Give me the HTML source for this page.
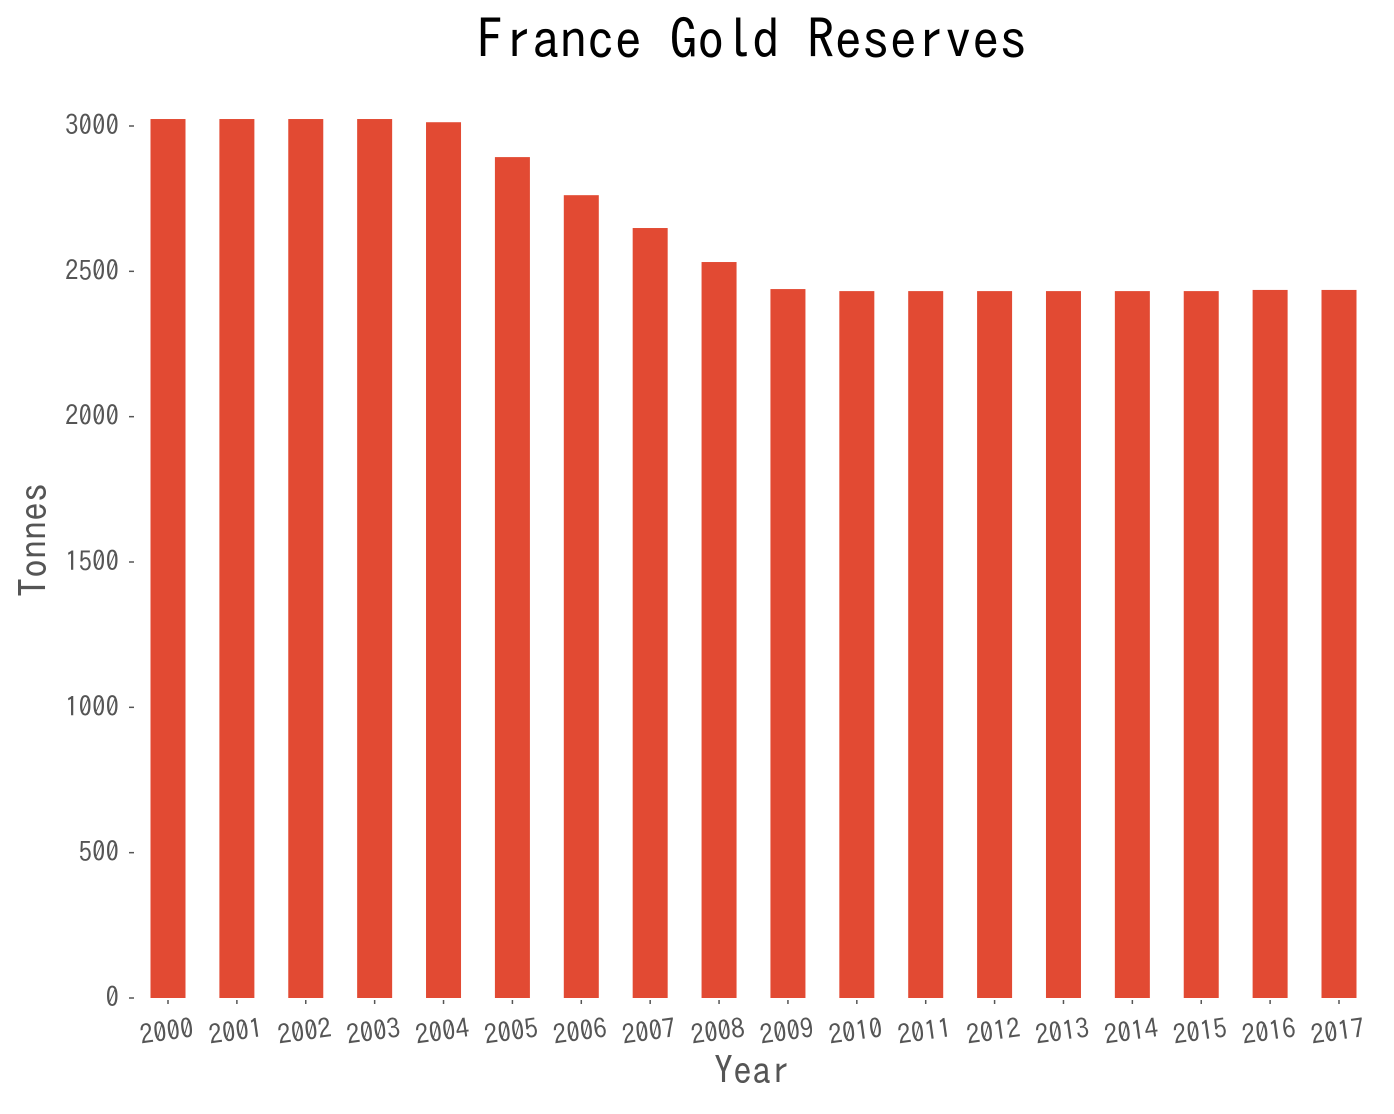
<!DOCTYPE html>
<html><head><meta charset="utf-8"><style>
body{margin:0;background:#fff;}
svg text{font-family:"IPAGothic","Noto Sans CJK JP",sans-serif;}
</style></head><body>
<svg id="chart" width="1394" height="1109" xmlns="http://www.w3.org/2000/svg">
<text x="752" y="59" font-size="55" text-anchor="middle" fill="#000">France Gold Reserves</text>
<text x="752" y="1084" font-size="38" text-anchor="middle" fill="#555">Year</text>
<text transform="translate(47,540) rotate(-90)" font-size="38" text-anchor="middle" fill="#555">Tonnes</text>
<g id="bars"></g>
<g id="yticks"></g>
<g id="xticks"></g>
</svg>
<script>
const years=["2000","2001","2002","2003","2004","2005","2006","2007","2008","2009","2010","2011","2012","2013","2014","2015","2016","2017"];
const tonnes=[3024,3024,3024,3024,3013,2893,2762,2649,2532,2439,2432,2432,2432,2432,2432,2432,2436,2436];
const yTicks=[0,500,1000,1500,2000,2500,3000];
const NS="http://www.w3.org/2000/svg";
const y0=998,ppu=872/3000;
const yScale=v=>y0-v*ppu;
const xScale=i=>168+i*(1171/17);
const bw=35;
const bars=document.getElementById('bars'),yt=document.getElementById('yticks'),xt=document.getElementById('xticks');
tonnes.forEach((v,i)=>{
const r=document.createElementNS(NS,'rect');
r.setAttribute('x',xScale(i)-bw/2);r.setAttribute('y',yScale(v));
r.setAttribute('width',bw);r.setAttribute('height',y0-yScale(v));
r.setAttribute('fill','#e24a33');


bars.appendChild(r);
});
yTicks.forEach(t=>{
const y=yScale(t);
const l=document.createElementNS(NS,'line');
l.setAttribute('x1',129);l.setAttribute('x2',134);l.setAttribute('y1',y);l.setAttribute('y2',y);
l.setAttribute('stroke','#555');l.setAttribute('stroke-width',1.5);


yt.appendChild(l);
const tx=document.createElementNS(NS,'text');
tx.setAttribute('x',119);tx.setAttribute('y',y+9);tx.setAttribute('text-anchor','end');
tx.setAttribute('font-size',27);tx.setAttribute('fill','#555');tx.textContent=t;


yt.appendChild(tx);
});
years.forEach((yr,i)=>{
const x=xScale(i);
const l=document.createElementNS(NS,'line');
l.setAttribute('x1',x);l.setAttribute('x2',x);l.setAttribute('y1',1000);l.setAttribute('y2',1004);
l.setAttribute('stroke','#555');l.setAttribute('stroke-width',1.5);


xt.appendChild(l);
const tx=document.createElementNS(NS,'text');
tx.setAttribute('transform','translate('+x+',1041) rotate(-8)');
tx.setAttribute('text-anchor','middle');tx.setAttribute('font-size',27);tx.setAttribute('fill','#555');
tx.textContent=yr;


xt.appendChild(tx);
});
</script>
</body></html>
